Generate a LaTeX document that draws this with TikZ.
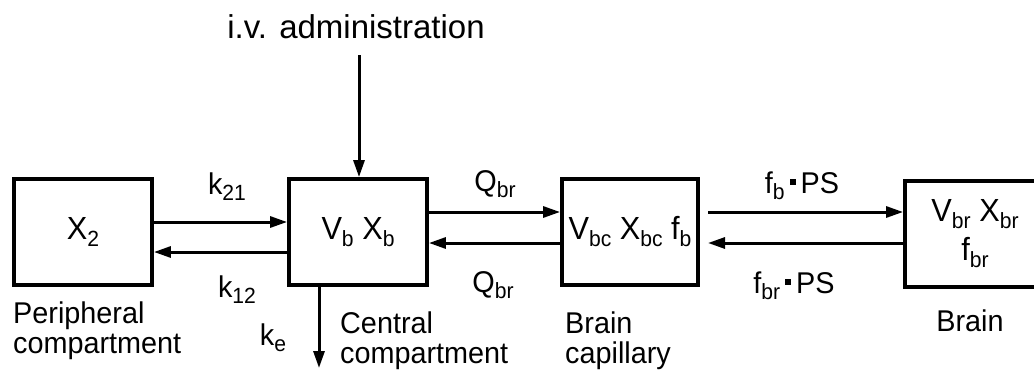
\documentclass[tikz,border=0pt]{standalone}
\usepackage{fontspec}
\setmainfont[FakeStretch=0.96]{Liberation Sans}
\newfontfamily\titlefont{Liberation Sans}
\usetikzlibrary{arrows.meta}
% subscript and the small square product dot
\newcommand{\sbs}[1]{\raisebox{-0.22em}{\fontsize{22}{22}\selectfont #1}}
\newcommand{\sqdot}{\,\rule[0.28em]{0.2em}{0.2em}\,}
\begin{document}
\begin{tikzpicture}[x=1pt,y=-1pt,
  box/.style={draw, line width=3.8pt, minimum width=138pt, minimum height=106pt,
    inner sep=0pt, align=center, font=\fontsize{32}{39}\selectfont},
  arr/.style={line width=3pt, -{Triangle[length=17pt,width=11pt]}},
  lbl/.style={inner sep=0pt, font=\fontsize{30}{30}\selectfont},
  namelbl/.style={lbl, align=left, anchor=base west}]
\useasboundingbox (0,0) rectangle (1034,370);
\clip (0,0) rectangle (1034,370);

% compartments
\node[box] (per) at (83,232) {X\sbs{2}};
\node[box] (cen) at (358,232) {V\sbs{b} X\sbs{b}};
\node[box, minimum width=136pt] (cap) at (630,232) {V\sbs{bc} X\sbs{bc} f\sbs{b}};
\node[box, minimum width=140pt] (brn) at (975,234) {V\sbs{br} X\sbs{br}\\f\sbs{br}};

% dosing and elimination
\node[lbl, anchor=base, font=\titlefont\fontsize{33}{36}\selectfont] (iv) at (356,38) {i.v. administration};
\coordinate (ivtop) at (359,55);
\coordinate (keend) at (319,368);
\draw[arr] (ivtop) -- (ivtop |- cen.north);
\draw[arr] ([xshift=-39pt]cen.south) -- (keend);

% exchange between compartments
\draw[arr] ([yshift=10pt]per.east) -- ([yshift=10pt]cen.west);
\draw[arr] ([yshift=-20pt]cen.west) -- ([yshift=-20pt]per.east);
\draw[arr] ([yshift=20pt]cen.east) -- ([yshift=20pt]cap.west);
\draw[arr] ([yshift=-11pt]cap.west) -- ([yshift=-11pt]cen.east);
\coordinate (capout) at (708,212);
\coordinate (capin) at (708,243);
\draw[arr] (capout) -- (capout -| brn.west);
\draw[arr] (capin -| brn.west) -- (capin);

% rate constants and flows
\node[lbl, anchor=base] (k21) at (227,194) {k\sbs{21}};
\node[lbl, anchor=base] (k12) at (237,297) {k\sbs{12}};
\node[lbl, anchor=base] (ke) at (273,345) {k\sbs{e}};
\node[lbl, anchor=base] (q1) at (495,191) {Q\sbs{br}};
\node[lbl, anchor=base] (q2) at (493,292) {Q\sbs{br}};
\node[lbl, anchor=base] (ps1) at (802,193) {f\sbs{b}\sqdot PS};
\node[lbl, anchor=base] (ps2) at (794,293) {f\sbs{br}\sqdot PS};

% compartment names (base anchor sits on the last line)
\node[namelbl] (nper) at (13,353) {Peripheral\\compartment};
\node[namelbl] (ncen) at (340,363) {Central\\compartment};
\node[namelbl] (ncap) at (565,363) {Brain\\capillary};
\node[lbl, anchor=base] (nbrn) at (970,331) {Brain};
\end{tikzpicture}
\end{document}
